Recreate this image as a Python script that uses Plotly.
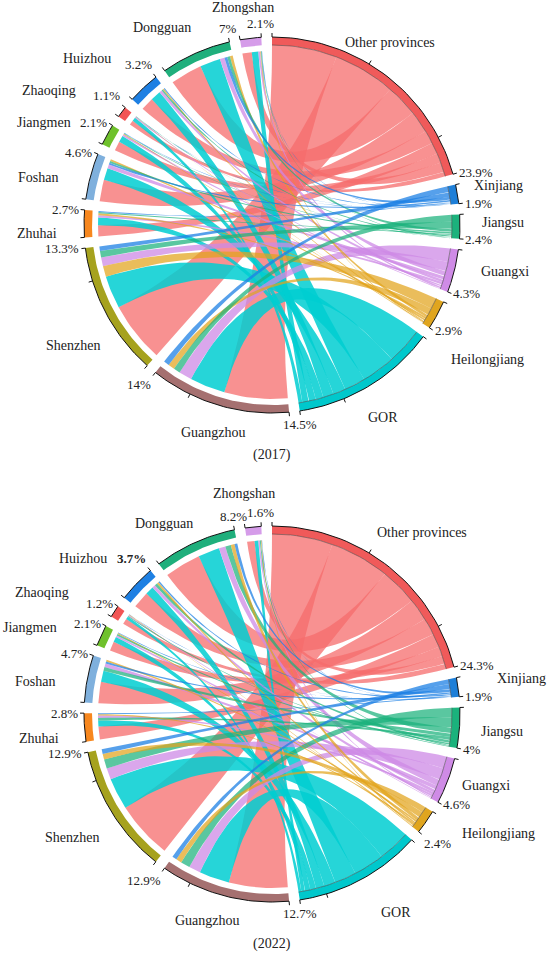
import numpy as np
import plotly.graph_objects as go

# sectors: 6 origin regions first, then the 9 Guangdong cities
sectors = ["Other provinces", "Xinjiang", "Jiangsu", "Guangxi", "Heilongjiang", "GOR",
           "Guangzhou", "Shenzhen", "Zhuhai", "Foshan", "Jiangmen", "Zhaoqing",
           "Huizhou", "Dongguan", "Zhongshan"]
n_regions = 6

share_2017 = [23.9, 1.9, 2.4, 4.3, 2.9, 14.5, 14, 13.3, 2.7, 4.6, 2.1, 1.1, 3.2, 7, 2.1]
share_2022 = [24.3, 1.9, 4, 4.6, 2.4, 12.7, 12.9, 12.9, 2.8, 4.7, 2.1, 1.2, 3.7, 8.2, 1.6]

# city rows x region columns (Other, Xinjiang, Jiangsu, Guangxi, Heilongjiang, GOR)
flow_2017 = [
    [6.8, 0.6, 0.7, 1.4, 0.7, 3.8],     # Guangzhou
    [6.5, 0.5, 0.7, 0.95, 1.15, 3.5],   # Shenzhen
    [1.2, 0.1, 0.15, 0.25, 0.2, 0.8],   # Zhuhai
    [2.3, 0.2, 0.2, 0.4, 0.2, 1.3],     # Foshan
    [1.0, 0.05, 0.07, 0.2, 0.08, 0.7],  # Jiangmen
    [0.5, 0.03, 0.03, 0.1, 0.04, 0.4],  # Zhaoqing
    [1.4, 0.1, 0.15, 0.3, 0.15, 1.1],   # Huizhou
    [3.4, 0.3, 0.3, 0.5, 0.3, 2.2],     # Dongguan
    [1.0, 0.05, 0.07, 0.2, 0.08, 0.7],  # Zhongshan
]
flow_2022 = [
    [6.3, 0.5, 1.0, 1.25, 0.6, 3.25],   # Guangzhou
    [6.2, 0.5, 1.0, 1.2, 0.6, 3.4],     # Shenzhen
    [1.4, 0.1, 0.3, 0.25, 0.15, 0.6],   # Zhuhai
    [2.3, 0.2, 0.4, 0.4, 0.2, 1.2],     # Foshan
    [1.0, 0.07, 0.18, 0.2, 0.1, 0.55],  # Jiangmen
    [0.6, 0.03, 0.1, 0.1, 0.07, 0.3],   # Zhaoqing
    [1.8, 0.15, 0.3, 0.35, 0.2, 0.9],   # Huizhou
    [3.9, 0.3, 0.6, 0.7, 0.4, 2.3],     # Dongguan
    [0.8, 0.05, 0.12, 0.15, 0.08, 0.4], # Zhongshan
]

sector_colors = ["#F05A5A", "#1E7FD8", "#1BB27C", "#CF8BE6", "#E0A51E", "#00C8CC",
                 "#A57070", "#A6A21E", "#F7871E", "#7FB0DD", "#6FC12C", "#F25555",
                 "#1E80E3", "#1FAF7C", "#D59CE9"]
link_colors = ["rgba(246,108,108,0.75)", "rgba(30,128,228,0.75)", "rgba(27,178,124,0.72)",
               "rgba(206,138,230,0.75)", "rgba(226,164,28,0.72)", "rgba(0,206,209,0.85)"]

R = 188
TRACK = 8
ROOT_GAP = 6
GAP = 3.27
FONT = "Liberation Serif, Times New Roman, serif"
FS = 13

# where each sector name sits: (degrees from the sector middle, pixels beyond the track)
names_2017 = {
    "Other provinces": (4.2, 29), "Xinjiang": (0.5, 42), "Jiangsu": (1.2, 43),
    "Guangxi": (2.9, 50), "Heilongjiang": (-3.2, 66), "GOR": (-0.9, 34),
    "Guangzhou": (0.7, 28), "Shenzhen": (3.5, 45), "Zhuhai": (2.6, 47),
    "Foshan": (3.6, 51), "Jiangmen": (4.6, 62), "Zhaoqing": (5.9, 72),
    "Huizhou": (5, 61), "Dongguan": (5.3, 38), "Zhongshan": (1.2, 31),
}
names_2022 = {
    "Other provinces": (-1.8, 47), "Xinjiang": (-0.2, 64), "Jiangsu": (0, 43),
    "Guangxi": (2.3, 38), "Heilongjiang": (7.3, 68), "GOR": (3.7, 46),
    "Guangzhou": (-2.5, 28), "Shenzhen": (-0.2, 47), "Zhuhai": (1.8, 46),
    "Foshan": (3.1, 51), "Jiangmen": (4.9, 69), "Zhaoqing": (5.3, 72),
    "Huizhou": (4.5, 57), "Dongguan": (5.2, 31), "Zhongshan": (1.5, 34),
}

fig = go.Figure()
annotations = []


def pt(cx, cy, r, deg):
    a = np.radians(deg)
    return cx + r * np.cos(a), cy - r * np.sin(a)


def arc(cx, cy, r, a1, a2, n=30):
    t = np.linspace(a1, a2, n)
    return pt(cx, cy, r, t)


def bez(p0, p1, c, n=40):
    t = np.linspace(0, 1, n)
    x = (1 - t) ** 2 * p0[0] + 2 * (1 - t) * t * c[0] + t ** 2 * p1[0]
    y = (1 - t) ** 2 * p0[1] + 2 * (1 - t) * t * c[1] + t ** 2 * p1[1]
    return x, y


def draw_chord(cx, cy, year, shares, flows, names, bold=()):
    shares = np.asarray(shares, float)
    flows = np.asarray(flows, float)
    ns = len(shares)
    unit = (360 - GAP * ns) / shares.sum()
    starts, ends = [], []
    a = 90.0
    for s in shares:
        starts.append(a)
        ends.append(a - s * unit)
        a = a - s * unit - GAP

    # place link roots inside every sector, biggest first
    pos = {}
    nc = flows.shape[0]
    for k in range(ns):
        if k < n_regions:
            vals = flows[:, k]
            others = [n_regions + i for i in range(nc)]
        else:
            vals = flows[k - n_regions, :]
            others = list(range(n_regions))
        order = np.argsort(-vals, kind="stable")
        span = starts[k] - ends[k]
        cur = starts[k]
        for j in order:
            w = vals[j] / vals.sum() * span
            pos[(k, others[j])] = (cur, cur - w)
            cur -= w

    # links, drawn region by region (largest region first)
    r_city = R - TRACK - ROOT_GAP
    r_reg = R - TRACK
    c = (cx, cy)
    for j in np.argsort(-flows.sum(axis=0), kind="stable"):
        for i in range(nc):
            k = n_regions + i
            a1, a2 = pos[(k, j)]
            b1, b2 = pos[(j, k)]
            xa, ya = arc(cx, cy, r_city, a1, a2, 12)
            xb, yb = arc(cx, cy, r_reg, b1, b2, 12)
            x1, y1 = bez((xa[-1], ya[-1]), (xb[0], yb[0]), c)
            x2, y2 = bez((xb[-1], yb[-1]), (xa[0], ya[0]), c)
            xs = np.concatenate([xa, x1, xb, x2])
            ys = np.concatenate([ya, y1, yb, y2])
            fig.add_trace(go.Scatter(x=xs, y=ys, mode="lines", fill="toself",
                                     fillcolor=link_colors[j], line=dict(width=0),
                                     hoverinfo="skip", showlegend=False))

    # tracks
    tx, ty = [], []
    for k in range(ns):
        xo, yo = arc(cx, cy, R, starts[k], ends[k], 40)
        xi, yi = arc(cx, cy, R - TRACK, ends[k], starts[k], 40)
        fig.add_trace(go.Scatter(x=np.concatenate([xo, xi]), y=np.concatenate([yo, yi]),
                                 mode="lines", fill="toself", fillcolor=sector_colors[k],
                                 line=dict(width=0), hoverinfo="skip", showlegend=False))
        fig.add_trace(go.Scatter(x=xo, y=yo, mode="lines", line=dict(color="#111", width=1),
                                 hoverinfo="skip", showlegend=False))
        if k < n_regions:
            xl, yl = arc(cx, cy, R - TRACK, starts[k], ends[k], 40)
            fig.add_trace(go.Scatter(x=xl, y=yl, mode="lines",
                                     line=dict(color="rgba(70,70,70,0.7)", width=0.8),
                                     hoverinfo="skip", showlegend=False))
        ticks = [starts[k]]
        t = 10
        while t < shares[k]:
            ticks.append(starts[k] - t * unit)
            t += 10
        ticks.append(ends[k])
        for ang in ticks:
            p0 = pt(cx, cy, R, ang)
            p1 = pt(cx, cy, R + 4, ang)
            tx += [p0[0], p1[0], None]
            ty += [p0[1], p1[1], None]

        # percentage beside the tick at the sector end
        lab = f"{shares[k]:g}%"
        ca, sa = np.cos(np.radians(ends[k])), np.sin(np.radians(ends[k]))
        px, py = pt(cx, cy, R + 5, ends[k])
        xa_ = "left" if ca > 0.35 else ("right" if ca < -0.35 else "center")
        ya_ = "bottom" if sa > 0.6 else ("top" if sa < -0.6 else "middle")
        txt = f"<b>{lab}</b>" if sectors[k] in bold else lab
        annotations.append(dict(x=px, y=py, text=txt, showarrow=False,
                                xanchor=xa_, yanchor=ya_, borderpad=0,
                                font=dict(family=FONT, size=FS, color="#222")))

        # sector name
        dth, dr = names[sectors[k]]
        mid = (starts[k] + ends[k]) / 2 + dth
        nx, ny = pt(cx, cy, R + dr, mid)
        annotations.append(dict(x=nx, y=ny, text=sectors[k], showarrow=False,
                                xanchor="center", yanchor="middle",
                                font=dict(family=FONT, size=FS + 1, color="#222")))

    fig.add_trace(go.Scatter(x=tx, y=ty, mode="lines", line=dict(color="#111", width=1),
                             hoverinfo="skip", showlegend=False))
    annotations.append(dict(x=cx, y=cy + R + 42, text=f"({year})", showarrow=False,
                            xanchor="center", yanchor="middle",
                            font=dict(family=FONT, size=FS + 1, color="#222")))


draw_chord(272, 225, 2017, share_2017, flow_2017, names_2017)
draw_chord(272, 714, 2022, share_2022, flow_2022, names_2022, bold=("Huizhou",))

fig.update_layout(
    width=550, height=955,
    margin=dict(l=0, r=0, t=0, b=0),
    paper_bgcolor="white", plot_bgcolor="white",
    xaxis=dict(range=[0, 550], visible=False, fixedrange=True),
    yaxis=dict(range=[955, 0], visible=False, fixedrange=True),
    annotations=annotations,
    showlegend=False,
)
fig.write_html("out.html", post_script="document.body.style.margin='0px';",
               config={"displayModeBar": False})
